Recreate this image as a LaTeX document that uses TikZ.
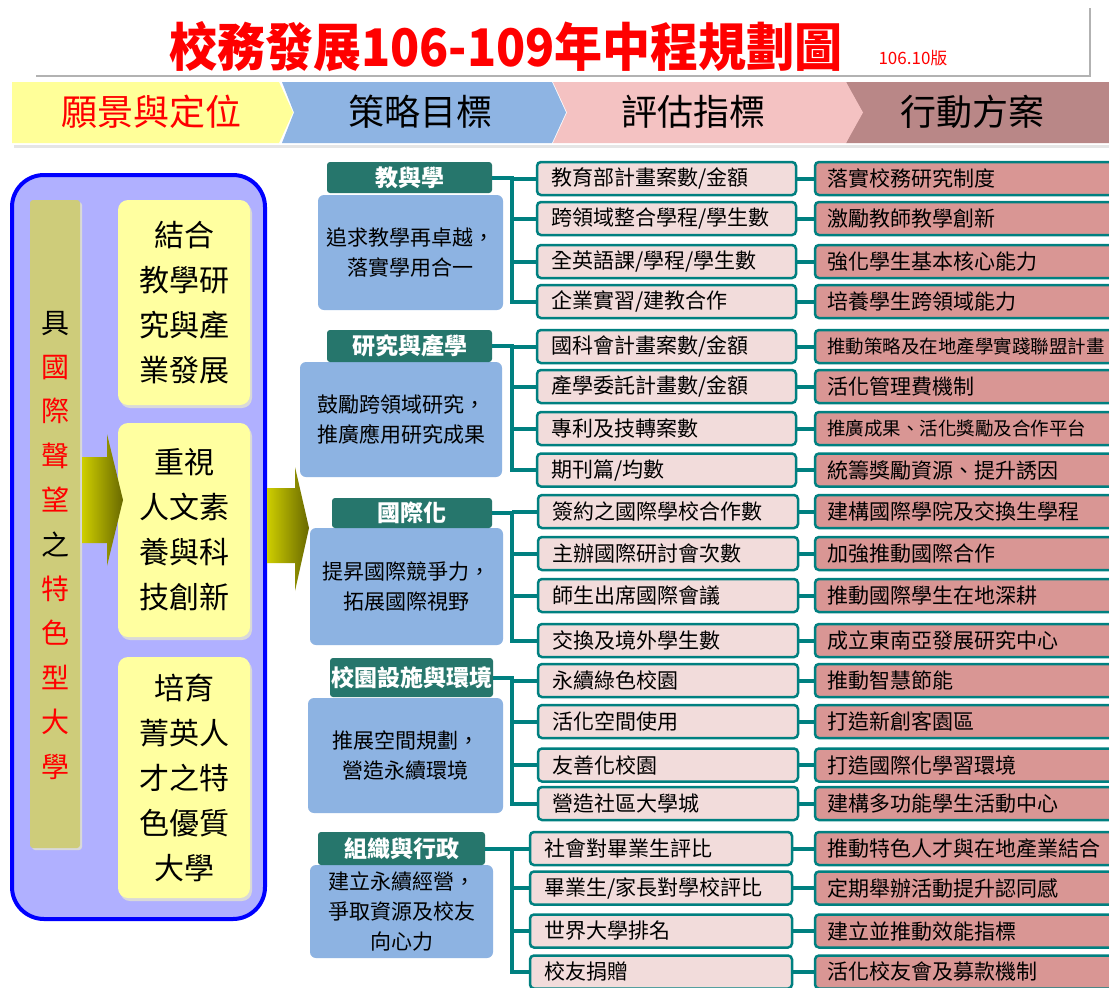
\documentclass[tikz,border=0pt]{standalone}
\usepackage{fontspec}
\setmainfont{Noto Sans CJK TC}
\usetikzlibrary{calc}
\definecolor{tealhd}{RGB}{38,118,108}
\definecolor{tealln}{RGB}{0,128,128}
\definecolor{indfill}{RGB}{242,220,219}
\definecolor{actfill}{RGB}{217,150,148}
\definecolor{descfill}{RGB}{141,179,226}
\definecolor{hdyellow}{RGB}{255,255,153}
\definecolor{hdblue}{RGB}{142,180,227}
\definecolor{hdpink}{RGB}{244,194,194}
\definecolor{hdmauve}{RGB}{185,135,135}
\definecolor{panelfill}{RGB}{176,176,255}
\definecolor{panelborder}{RGB}{0,0,255}
\definecolor{olivebar}{RGB}{206,204,122}
\definecolor{yelbox}{RGB}{255,255,160}
\definecolor{oliveA}{RGB}{206,206,0}
\definecolor{oliveB}{RGB}{105,105,0}
\definecolor{titlered}{RGB}{255,0,0}
\tikzset{
  indbox/.style={draw=tealln, line width=2.5, fill=indfill, rounded corners=4,
    minimum height=33, inner xsep=14, inner ysep=0, text width=#1, align=left,
    font=\fontsize{21}{24}\selectfont},
  actbox/.style={draw=tealln, line width=2.5, fill=actfill, rounded corners=4,
    minimum height=33, inner xsep=12, inner ysep=0, text width=285, align=left,
    font=\fontsize{21}{24}\selectfont},
  hdbox/.style={fill=tealhd, rounded corners=3, inner sep=0, text=white,
    font=\fontsize{23}{26}\selectfont\bfseries},
  descbox/.style={fill=descfill, rounded corners=6, inner sep=0, align=center,
    font=\fontsize{21}{30}\selectfont},
  ybox/.style={fill=yelbox, rounded corners=10, inner sep=0, align=center,
    font=\fontsize{30}{45}\selectfont},
  conn/.style={draw=tealln, line width=4},
  hdtext/.style={font=\fontsize{36}{40}\selectfont},
}
\begin{document}
\begin{tikzpicture}[x=1pt,y=-1pt]
\clip (0,0) rectangle (1109,988);
\fill[white] (0,0) rectangle (1109,988);

% ---------- title ----------
\node[text=titlered, font=\fontsize{48}{55}\selectfont\bfseries] (title) at (506,47) {\scalebox{1}[1.08]{校務發展106-109年中程規劃圖}};
\node[text=titlered, font=\fontsize{17}{20}\selectfont] (ver) at (913,58) {106.10版};
\draw[gray!60, line width=2] (36,76) -- (1090,76) -- (1090,8);

% ---------- header chevrons ----------
\fill[gray!20] (14,145) rectangle (1109,148);
\fill[hdmauve] (846,82) -- (1109,82) -- (1109,143) -- (846,143) -- (861,112.5) -- cycle;
\fill[hdpink] (553,82) -- (846,82) -- (863,112.5) -- (846,143) -- (553,143) -- (567,112.5) -- cycle;
\fill[hdblue] (282,82) -- (552,82) -- (566,112.5) -- (552,143) -- (282,143) -- (294,112.5) -- cycle;
\fill[hdyellow] (12,82) -- (279,82) -- (293,112.5) -- (279,143) -- (12,143) -- cycle;
\node[hdtext, text=red] (hv) at (151,112) {願景與定位};
\node[hdtext] (hs) at (420,112) {策略目標};
\node[hdtext] (he) at (693,112) {評估指標};
\node[hdtext] (ha) at (972,112) {行動方案};

% ---------- left panel ----------
\draw[panelborder, fill=panelfill, line width=4, rounded corners=32] (12,175) rectangle (265,919);
\fill[gray!30, rounded corners=3] (32,202) rectangle (82,850);
\fill[olivebar, rounded corners=3] (30,200) rectangle (80,848);
\node[align=center, font=\fontsize{28}{44.4}\selectfont] (vision) at (55,545)
  {具\\\textcolor{red}{國}\\\textcolor{red}{際}\\\textcolor{red}{聲}\\\textcolor{red}{望}\\之\\\textcolor{red}{特}\\\textcolor{red}{色}\\\textcolor{red}{型}\\\textcolor{red}{大}\\\textcolor{red}{學}};

\fill[gray!30, rounded corners=10] (120,203) rectangle (252,408);
\fill[gray!30, rounded corners=10] (120,426) rectangle (252,640);
\fill[gray!30, rounded corners=10] (120,660) rectangle (252,901);
\node[ybox, minimum width=132, minimum height=205] (y1) at (184,302.5) {結合\\教學研\\究與產\\業發展};
\node[ybox, minimum width=132, minimum height=214] (y2) at (184,530) {重視\\人文素\\養與科\\技創新};
\node[ybox, minimum width=132, minimum height=241] (y3) at (184,777.5) {培育\\菁英人\\才之特\\色優質\\大學};

% arrows
\shade[left color=oliveA, right color=oliveB]
  (82,457) -- (107,457) -- (107,434) -- (123,500) -- (107,566) -- (107,543) -- (82,543) -- cycle;
\shade[left color=oliveA, right color=oliveB]
  (267,488) -- (295,488) -- (295,467) -- (309,528) -- (295,591) -- (295,563) -- (267,563) -- cycle;

% ---------- section 1 ----------
\node[descbox, minimum width=185, minimum height=115] (d1) at (410.5,252.5) {追求教學再卓越，\\落實學用合一};
\node[hdbox, minimum width=165, minimum height=31] (h1) at (409.5,177.5) {教與學};
\node[indbox=231] (i11) at (666.5,178.5) {教育部計畫案數/金額};
\node[indbox=231] (i12) at (666.5,218.5) {跨領域整合學程/學生數};
\node[indbox=231] (i13) at (666.5,261.5) {全英語課/學程/學生數};
\node[indbox=231] (i14) at (666.5,301.5) {企業實習/建教合作};
\node[actbox] (a11) at (969.5,178.5) {落實校務研究制度};
\node[actbox] (a12) at (969.5,218.5) {激勵教師教學創新};
\node[actbox] (a13) at (969.5,261.5) {強化學生基本核心能力};
\node[actbox] (a14) at (969.5,301.5) {培養學生跨領域能力};

% ---------- section 2 ----------
\node[descbox, minimum width=202, minimum height=115] (d2) at (401,419.5) {鼓勵跨領域研究，\\推廣應用研究成果};
\node[hdbox, minimum width=165, minimum height=32] (h2) at (409.5,346) {研究與產學};
\node[indbox=231] (i21) at (666.5,346.5) {國科會計畫案數/金額};
\node[indbox=231] (i22) at (666.5,386.5) {產學委託計畫數/金額};
\node[indbox=231] (i23) at (666.5,428.5) {專利及技轉案數};
\node[indbox=231] (i24) at (666.5,470) {期刊篇/均數};
\node[actbox, font=\fontsize{18.5}{22}\selectfont] (a21) at (969.5,346.5) {推動策略及在地產學實踐聯盟計畫};
\node[actbox] (a22) at (969.5,386.5) {活化管理費機制};
\node[actbox, font=\fontsize{18.5}{22}\selectfont] (a23) at (969.5,428.5) {推廣成果、活化獎勵及合作平台};
\node[actbox] (a24) at (969.5,470) {統籌獎勵資源、提升誘因};

% ---------- section 3 ----------
\node[descbox, minimum width=193, minimum height=117] (d3) at (406.5,586.5) {提昇國際競爭力，\\拓展國際視野};
\node[hdbox, minimum width=160, minimum height=30] (h3) at (412,513) {國際化};
\node[indbox=232] (i31) at (668,511.5) {簽約之國際學校合作數};
\node[indbox=232] (i32) at (668,553.5) {主辦國際研討會次數};
\node[indbox=232] (i33) at (668,595.5) {師生出席國際會議};
\node[indbox=232] (i34) at (668,640.5) {交換及境外學生數};
\node[actbox] (a31) at (969.5,511.5) {建構國際學院及交換生學程};
\node[actbox] (a32) at (969.5,553.5) {加強推動國際合作};
\node[actbox] (a33) at (969.5,595.5) {推動國際學生在地深耕};
\node[actbox] (a34) at (969.5,640.5) {成立東南亞發展研究中心};

% ---------- section 4 ----------
\node[descbox, minimum width=195, minimum height=115] (d4) at (405.5,755.5) {推展空間規劃，\\營造永續環境};
\node[hdbox, minimum width=163, minimum height=39] (h4) at (411.5,677.5) {校園設施與環境};
\node[indbox=232] (i41) at (668,680.5) {永續綠色校園};
\node[indbox=232] (i42) at (668,721.5) {活化空間使用};
\node[indbox=232] (i43) at (668,765) {友善化校園};
\node[indbox=232] (i44) at (668,803.5) {營造社區大學城};
\node[actbox] (a41) at (969.5,680.5) {推動智慧節能};
\node[actbox] (a42) at (969.5,721.5) {打造新創客園區};
\node[actbox] (a43) at (969.5,765) {打造國際化學習環境};
\node[actbox] (a44) at (969.5,803.5) {建構多功能學生活動中心};

% ---------- section 5 ----------
\node[descbox, minimum width=183, minimum height=93] (d5) at (401.5,911.5) {建立永續經營，\\爭取資源及校友\\向心力};
\node[hdbox, minimum width=167, minimum height=33] (h5) at (401.5,848.5) {組織與行政};
\node[indbox=234] (i51) at (661,848.5) {社會對畢業生評比};
\node[indbox=234] (i52) at (661,888) {畢業生/家長對學校評比};
\node[indbox=234] (i53) at (661,931) {世界大學排名};
\node[indbox=234] (i54) at (661,972) {校友捐贈};
\node[actbox] (a51) at (969.5,848.5) {推動特色人才與在地產業結合};
\node[actbox] (a52) at (969.5,888) {定期舉辦活動提升認同感};
\node[actbox] (a53) at (969.5,931) {建立並推動效能指標};
\node[actbox] (a54) at (969.5,972) {活化校友會及募款機制};

% ---------- connectors ----------
\coordinate (tr) at (512,0);
\foreach \s in {1,...,5}{
  \draw[conn] (h\s.east) -- (h\s.east -| tr) -- (i\s4.west -| tr) -- (i\s4.west);
  \foreach \k in {1,2,3}{
    \draw[conn] (i\s\k.west -| tr) -- (i\s\k.west);
  }
  \foreach \k in {1,2,3,4}{
    \draw[conn] (i\s\k.east) -- (a\s\k.west);
  }
}
\end{tikzpicture}
\end{document}
